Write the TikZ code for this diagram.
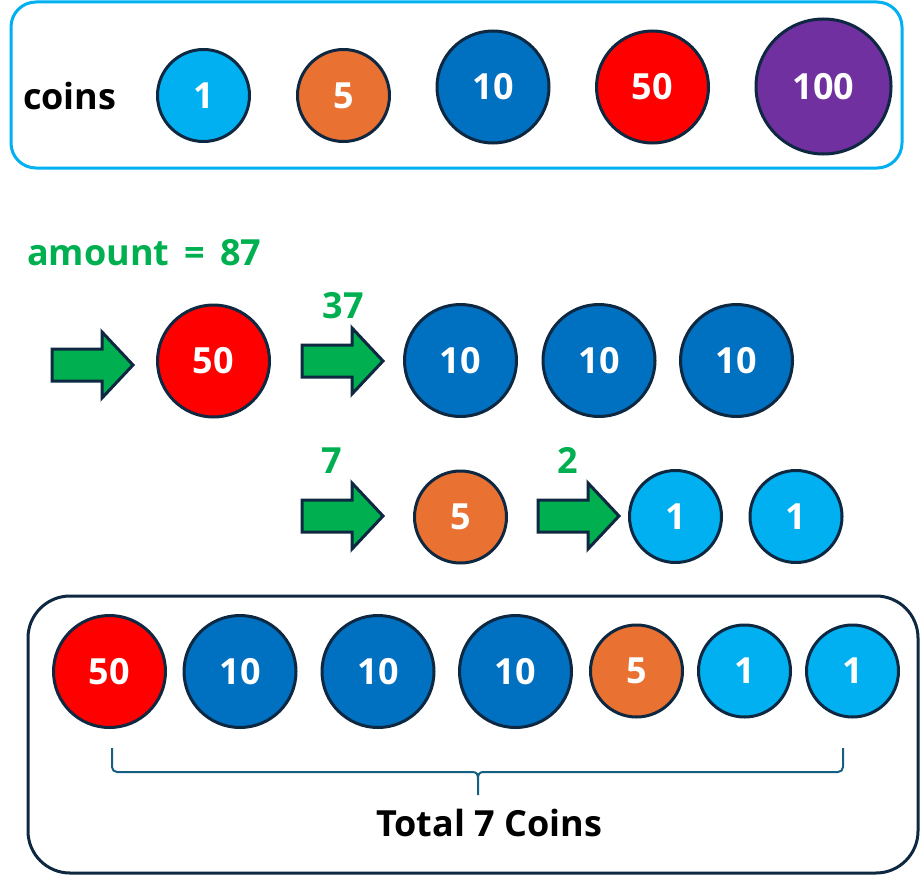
\documentclass[tikz,border=0pt]{standalone}
\usepackage{fontspec}
\setmainfont{Open Sans}
\definecolor{cyanc}{HTML}{00B0F0}
\definecolor{orangec}{HTML}{E97132}
\definecolor{bluec}{HTML}{0070C0}
\definecolor{redc}{HTML}{FF0000}
\definecolor{purplec}{HTML}{7030A0}
\definecolor{greenc}{HTML}{00B050}
\definecolor{outc}{HTML}{0E2841}
\definecolor{bracec}{HTML}{156082}
\tikzset{
  coin/.style={circle, draw=outc, line width=3pt, fill=#1, text=white, inner sep=0pt,
    font=\bfseries\fontsize{36}{40}\selectfont},
  small/.style={minimum size=92pt},
  mid/.style={minimum size=112pt},
  big/.style={minimum size=135pt},
  arrowsty/.style={draw=outc, line width=3pt, fill=greenc, line join=miter},
  fatarrow/.pic={\path[arrowsty] (0,-16) -- (50,-16) -- (50,-33) -- (81,0) -- (50,33) -- (50,16) -- (0,16) -- cycle;},
  lbl/.style={inner sep=0pt, font=\bfseries\fontsize{36}{40}\selectfont},
  bracesty/.style={draw=bracec, line width=2pt},
}
\begin{document}
\begin{tikzpicture}[x=1pt,y=-1pt]
\useasboundingbox (0,0) rectangle (920,875);
% top box
\draw[cyanc, line width=3pt, rounded corners=25pt] (11,2) rectangle (902,168);
\node[lbl, anchor=base west] (coins) at (23,109) {coins};
\node[coin=cyanc, small] (t1) at (203.5,95.5) {1};
\node[coin=orangec, small] (t5) at (343.5,95.5) {5};
\node[coin=bluec, mid] (t10) at (493,87) {10};
\node[coin=redc, mid] (t50) at (652.5,87) {50};
\node[coin=purplec, big] (t100) at (823.5,86.5) {100};
% amount
\node[lbl, text=greenc, anchor=base west] (amount) at (27,265) {amount\hspace{0.42em}=\hspace{0.42em}87};
% row 1
\pic (a1) at (52,365) {fatarrow};
\node[coin=redc, mid] (m50) at (213.5,361) {50};
\pic (a2) at (302,361) {fatarrow};
\node[lbl, text=greenc, anchor=base] (r37) at (343,318) {37};
\node[coin=bluec, mid] (m10a) at (460.5,360.5) {10};
\node[coin=bluec, mid] (m10b) at (599,360.5) {10};
\node[coin=bluec, mid] (m10c) at (736.5,360.5) {10};
% row 2
\pic (a3) at (302,516) {fatarrow};
\node[lbl, text=greenc, anchor=base] (r7) at (332,473) {7};
\node[coin=orangec, small] (m5) at (460.5,517) {5};
\pic (a4) at (538,516) {fatarrow};
\node[lbl, text=greenc, anchor=base] (r2) at (567.5,473) {2};
\node[coin=cyanc, small] (m1a) at (675.5,516.5) {1};
\node[coin=cyanc, small] (m1b) at (796,516.5) {1};
% bottom box
\draw[outc, line width=3pt, rounded corners=42pt] (28,596) rectangle (918,873);
\node[coin=redc, mid] (b1) at (109.5,671.5) {50};
\node[coin=bluec, mid] (b2) at (240,671.5) {10};
\node[coin=bluec, mid] (b3) at (378,671.5) {10};
\node[coin=bluec, mid] (b4) at (515.5,671.5) {10};
\node[coin=orangec, small] (b5) at (636.5,671) {5};
\node[coin=cyanc, small] (b6) at (744.5,671) {1};
\node[coin=cyanc, small] (b7) at (852.5,671) {1};
% brace
\draw[bracesty, rounded corners=5pt] (112,748) -- (112,772) -- (472,772);
\draw[bracesty] (472,772) .. controls (477,772) and (478,774) .. (478,780) -- (478,795);
\draw[bracesty] (484,772) .. controls (479,772) and (478,774) .. (478,780);
\draw[bracesty, rounded corners=5pt] (484,772) -- (843,772) -- (843,748);
\node[lbl, anchor=base] (total) at (489,836) {Total 7 Coins};
\end{tikzpicture}
\end{document}
